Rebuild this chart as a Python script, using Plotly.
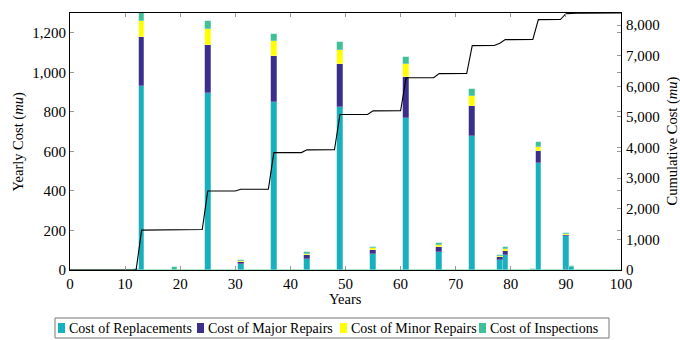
import numpy as np
import plotly.graph_objects as go

# ---- data ----
event_years  = [12, 13, 16, 19, 22, 25, 28, 31, 34, 37, 40, 43, 46, 49, 52, 55, 58, 61, 64, 67,
                70, 73, 76, 78, 79, 82, 84, 85, 88, 90, 91, 94, 97]
replacements = [0, 929, 0, 0, 0, 895, 0, 30, 0, 852, 0, 57, 0, 823, 0, 79, 0, 771, 0, 91,
                0, 678, 0, 50, 76, 0, 0, 539, 0, 170, 15, 0, 0]
major_rep    = [0, 248, 0, 0, 0, 243, 0, 12, 0, 229, 0, 17, 0, 219, 0, 22, 0, 205, 0, 24,
                0, 152, 0, 14, 22, 0, 0, 64, 0, 5, 0, 0, 0]
minor_rep    = [0, 82, 0, 0, 0, 79, 0, 5, 0, 76, 0, 8, 0, 72, 0, 9, 0, 64, 0, 11,
                0, 50, 0, 7, 10, 0, 0, 20, 0, 5, 0, 0, 0]
inspections  = [3, 40, 2, 15, 2, 42, 2, 6, 2, 38, 2, 7, 2, 38, 2, 8, 2, 37, 2, 9,
                2, 34, 2, 6, 8, 2, 4, 25, 2, 9, 5, 2, 2]

series_names = ["Cost of Replacements", "Cost of Major Repairs",
                "Cost of Minor Repairs", "Cost of Inspections"]
x_ticks = list(range(0, 101, 10))
y_ticks = list(range(0, 1201, 200))
y2_ticks = list(range(0, 8001, 1000))

all_years = list(range(0, 101))

def expand(vals):
    arr = np.zeros(len(all_years))
    for y, v in zip(event_years, vals):
        arr[y] = v
    return arr

series_vals = [expand(replacements), expand(major_rep), expand(minor_rep), expand(inspections)]
cumulative = np.cumsum(sum(series_vals))

colors = ["#18b0bd", "#3a2f8c", "#ffff00", "#41bf97"]
edges = ["#8fd8de", "#9d97c6", "#ffff99", "#a0dfcb"]

FF = "Liberation Serif"
FS = 14.5
LFS = 14
TFS = 15
fig = go.Figure()
for name, vals, c, e in zip(series_names, series_vals, colors, edges):
    fig.add_trace(go.Bar(x=all_years, y=vals, name=name, width=1.0, showlegend=False,
                         marker=dict(color=c, line=dict(color=e, width=0.5)), yaxis="y"))

fig.add_trace(go.Scatter(x=all_years, y=cumulative, mode="lines", yaxis="y2",
                         line=dict(color="black", width=1.1), showlegend=False,
                         name="Cumulative Cost"))

tickfont = dict(family=FF, size=TFS, color="black")
fig.update_layout(
    width=680, height=340,
    margin=dict(l=70, r=59, t=13, b=70, autoexpand=False),
    barmode="stack", bargap=0,
    plot_bgcolor="white", paper_bgcolor="white",
    font=dict(family=FF, size=FS, color="black"),
    showlegend=False,
    xaxis=dict(range=[0, 100], tickvals=x_ticks, ticks="inside", ticklen=4,
               tickcolor="#999999", showline=True, linecolor="black", linewidth=1,
               mirror="ticks", showgrid=False, zeroline=False, tickfont=tickfont,
               automargin=False),
    yaxis=dict(range=[0, 1300], tickvals=y_ticks, tickformat=",d",
               ticks="inside", ticklen=4, tickcolor="#999999", showline=True,
               linecolor="black", linewidth=1, mirror="ticks", showgrid=False,
               zeroline=False, tickfont=tickfont, automargin=False),
    yaxis2=dict(range=[0, float(cumulative[-1])], tickvals=y2_ticks,
                tickformat=",d", overlaying="y", side="right", ticks="inside", ticklen=4,
                tickcolor="#999999", showline=False, showgrid=False, zeroline=False,
                tickfont=tickfont, automargin=False, ticklabelstandoff=4),
)

# ---- helper: window pixel -> paper coordinates ----
L, W, T, H = 70.0, 551.0, 13.0, 257.0
def px(x):
    return (x - L) / W
def py(y):
    return (T + H - y) / H

# axis titles
fig.add_annotation(text="Years", xref="paper", yref="paper", x=0.5, y=py(299),
                   xanchor="center", yanchor="middle", showarrow=False,
                   font=dict(family=FF, size=FS))
fig.add_annotation(text="Yearly Cost (<i>mu</i>)", xref="paper", yref="paper",
                   x=px(18), y=0.5, textangle=-90, xanchor="center", yanchor="middle",
                   showarrow=False, font=dict(family=FF, size=FS))
fig.add_annotation(text="Cumulative Cost (<i>mu</i>)", xref="paper", yref="paper",
                   x=px(672), y=0.5, textangle=-90, xanchor="center", yanchor="middle",
                   showarrow=False, font=dict(family=FF, size=FS))

# legend box drawn below the plot
fig.add_shape(type="rect", xref="paper", yref="paper",
              x0=px(55), x1=px(609), y0=py(338), y1=py(318),
              line=dict(color="#777777", width=1), fillcolor="white", layer="above")
sq_x = [58, 197, 340, 479]
tx_x = [67, 206, 349, 488]
for name, c, sx, tx in zip(series_names, colors, sq_x, tx_x):
    fig.add_shape(type="rect", xref="paper", yref="paper",
                  x0=px(sx), x1=px(sx + 7), y0=py(333), y1=py(323),
                  line=dict(width=0), fillcolor=c, layer="above")
    fig.add_annotation(text=name, xref="paper", yref="paper", x=px(tx), y=py(328),
                       xanchor="left", yanchor="middle", showarrow=False,
                       font=dict(family=FF, size=LFS, color="black"))

# remove the default 8px page margin so the 680x340 figure fills the window exactly
fig.write_html("out.html", config={"displayModeBar": False},
               post_script="document.body.style.margin='0';document.body.style.overflow='hidden';")
